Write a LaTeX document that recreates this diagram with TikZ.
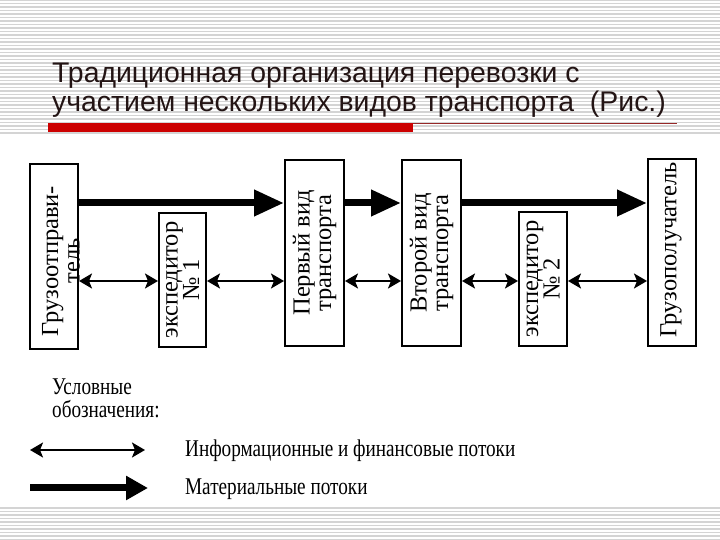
\documentclass[tikz,border=0pt]{standalone}
\usepackage{fontspec}
\setmainfont{Liberation Serif}
\newfontfamily\titlefont{Liberation Sans}
\usetikzlibrary{arrows.meta}
\definecolor{titlecol}{RGB}{35,20,20}
\definecolor{barred}{RGB}{204,0,0}
\definecolor{linered}{RGB}{150,40,40}
\definecolor{stripecol}{RGB}{212,212,212}
\tikzset{
  x=1pt, y=1pt,
  box/.style={draw=black, line width=2pt, inner sep=0pt, fill=white},
  boxtext/.style={rotate=90, align=center, inner sep=0pt,
    font=\fontsize{24.5}{21.5}\selectfont},
  matarrow/.style={line width=7pt, -{Triangle[length=30pt,width=25pt]}},
  infarrow/.style={line width=2pt,
    {Stealth[length=13pt,width=15pt,inset=3pt]}-{Stealth[length=13pt,width=15pt,inset=3pt]}},
  legmat/.style={line width=7pt, -{Triangle[length=22pt,width=23pt]}},
  legtext/.style={anchor=base west, inner sep=0pt, xscale=0.8,
    font=\fontsize{24}{24}\selectfont},
  titletext/.style={anchor=base west, inner sep=0pt, text=titlecol,
    font=\titlefont\fontsize{28.4}{30}\selectfont},
  stripe/.style={draw=stripecol, line width=1.1pt}
}
\begin{document}
\begin{tikzpicture}
\useasboundingbox (0,0) rectangle (720,540);
\fill[white] (0,0) rectangle (720,540);
% background stripes
\foreach \yy in {0,3.5,...,133} {\draw[stripe] (0,540-\yy) -- (720,540-\yy);}
\foreach \yy in {508,511.5,...,540} {\draw[stripe] (0,540-\yy) -- (720,540-\yy);}
% title
\node[titletext] (title1) at (52,457) {Традиционная организация перевозки с};
\node[titletext] (title2) at (52,428) {участием нескольких видов транспорта\ \ (Рис.)};
\fill[barred] (48,408) rectangle (413,417);
\draw[linered, line width=1pt] (413,416.5) -- (677,416.5);
% boxes
\node[box, minimum width=48pt, minimum height=185pt] (b1) at (54,283.5) {};
\node[box, minimum width=47pt, minimum height=134pt] (b2) at (182.5,260) {};
\node[box, minimum width=59pt, minimum height=186pt] (b3) at (314.5,287) {};
\node[box, minimum width=59pt, minimum height=186pt] (b4) at (431.5,287) {};
\node[box, minimum width=48pt, minimum height=134pt] (b5) at (543,261) {};
\node[box, minimum width=48pt, minimum height=187pt] (b6) at (672,287.5) {};
% box texts
\node[boxtext] (t1) at (61,279) {Грузоотправи-\\тель};
\node[boxtext] (t2) at (b2) {экспедитор\\№ 1};
\node[boxtext] (t3) at (b3) {Первый вид\\транспорта};
\node[boxtext] (t4) at (b4) {Второй вид\\транспорта};
\node[boxtext] (t5) at (b5) {экспедитор\\№ 2};
\node[boxtext] (t6) at (671,290) {Грузополучатель};
% flows
\coordinate (mat) at (0,337);
\coordinate (inf) at (0,259);
\draw[matarrow] (b1.east |- mat) -- (b3.west |- mat);
\draw[matarrow] (b3.east |- mat) -- (b4.west |- mat);
\draw[matarrow] (b4.east |- mat) -- (b6.west |- mat);
\draw[infarrow] (b1.east |- inf) -- (b2.west |- inf);
\draw[infarrow] (b2.east |- inf) -- (b3.west |- inf);
\draw[infarrow] (b3.east |- inf) -- (b4.west |- inf);
\draw[infarrow] (b4.east |- inf) -- (b5.west |- inf);
\draw[infarrow] (b5.east |- inf) -- (b6.west |- inf);
% legend
\node[legtext] (leg1) at (52,145) {Условные};
\node[legtext] (leg2) at (52,122) {обозначения:};
\coordinate (li1) at (30,90);
\coordinate (li2) at (145,90);
\draw[infarrow] (li1) -- (li2);
\node[legtext] (legi) at (185,83) {Информационные и финансовые потоки};
\coordinate (lm1) at (30,52);
\coordinate (lm2) at (148,52);
\draw[legmat] (lm1) -- (lm2);
\node[legtext] (legm) at (185,45) {Материальные потоки};
\end{tikzpicture}
\end{document}
